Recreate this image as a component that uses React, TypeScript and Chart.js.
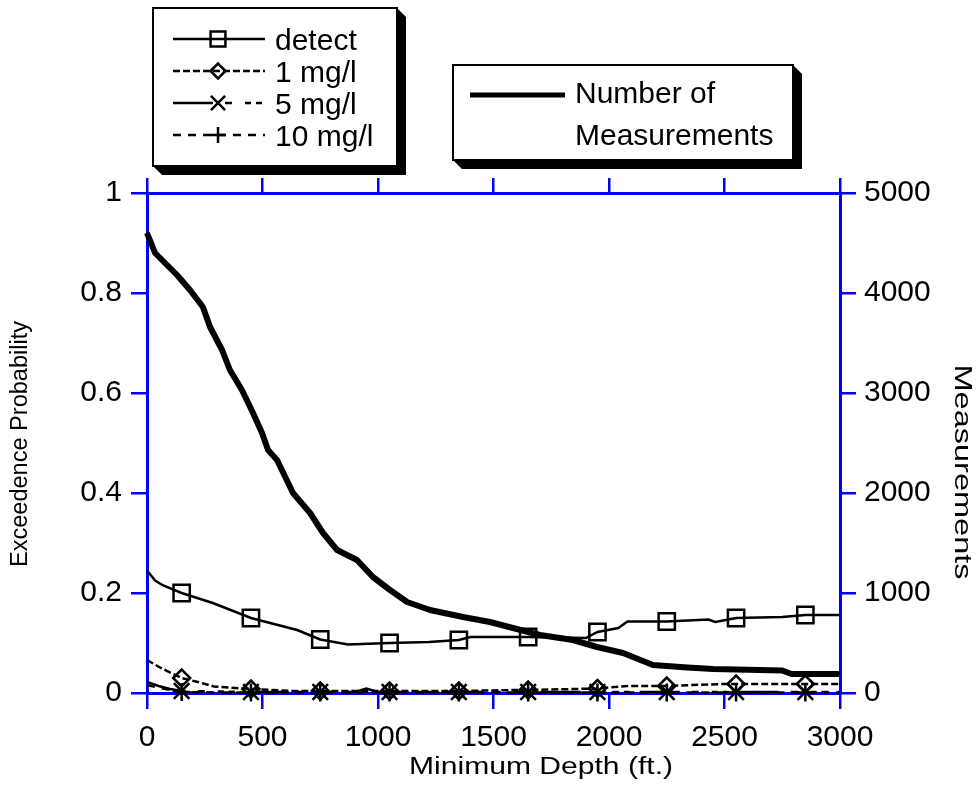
import React, { useEffect, useRef } from 'react';
import { Chart, registerables } from 'chart.js';

Chart.register(...registerables);

// ---------- data ----------
const markerDepths = [150, 450, 750, 1050, 1350, 1650, 1950, 2250, 2550, 2850];
const leftTickLabels = ['0', '0.2', '0.4', '0.6', '0.8', '1'];
const rightTickLabels = ['0', '1000', '2000', '3000', '4000', '5000'];
const seriesNames = ['detect', '1 mg/l', '5 mg/l', '10 mg/l'];
const measLegend = ['Number of', 'Measurements'];
const xTitle = 'Minimum Depth (ft.)';
const yTitle = 'Exceedence Probability';
const y2Title = 'Measurements';

const measDepth = [0, 35, 78, 130, 186, 242, 273, 325, 359, 411, 459, 498, 524, 563, 632, 706, 762, 823, 909, 978, 1052, 1126, 1225, 1368, 1485, 1584, 1701, 1844, 1948, 2061, 2190, 2340, 2450, 2750, 2790, 3000];
const measCount = [4600, 4400, 4300, 4180, 4030, 3860, 3660, 3430, 3230, 3030, 2800, 2600, 2430, 2330, 2000, 1800, 1600, 1430, 1330, 1160, 1030, 910, 830, 760, 710, 650, 580, 530, 460, 400, 280, 255, 240, 225, 190, 190];

const detectDepth = [0, 35, 70, 150, 285, 450, 650, 750, 870, 1050, 1220, 1350, 1400, 1650, 1900, 1950, 2040, 2080, 2250, 2430, 2460, 2550, 2750, 2850, 3000];
const detectProb = [0.245, 0.225, 0.215, 0.2, 0.18, 0.15, 0.126, 0.107, 0.097, 0.1, 0.102, 0.106, 0.112, 0.112, 0.11, 0.122, 0.13, 0.143, 0.143, 0.147, 0.142, 0.15, 0.152, 0.156, 0.156];

const mg1Depth = [0, 60, 150, 220, 290, 450, 630, 750, 1050, 1350, 1600, 1650, 1950, 2080, 2250, 2490, 2550, 2850, 3000];
const mg1Prob = [0.066, 0.05, 0.03, 0.022, 0.013, 0.008, 0.004, 0.004, 0.004, 0.004, 0.006, 0.006, 0.009, 0.014, 0.014, 0.018, 0.018, 0.018, 0.018];

const mg5Depth = [0, 50, 100, 150, 300, 450, 750, 900, 950, 1000, 1050, 1350, 1650, 1950, 2250, 2550, 2850, 3000];
const mg5Prob = [0.022, 0.014, 0.008, 0.004, 0.003, 0.002, 0.002, 0.002, 0.009, 0.002, 0.002, 0.002, 0.002, 0.002, 0.002, 0.002, 0.002, 0.002];

const mg10Depth = [0, 40, 100, 150, 300, 450, 750, 1050, 1350, 1650, 1950, 2250, 2550, 2850, 3000];
const mg10Prob = [0.016, 0.012, 0.006, 0.002, 0.001, 0.001, 0.001, 0.001, 0.001, 0.001, 0.001, 0.001, 0.001, 0.001, 0.001];

// ---------- styles ----------
const BLUE = '#0000ff';
const FONT = '"Liberation Sans", Arial, Helvetica, sans-serif';
const dashes = [[], [7, 3], [40, 12, 7, 13, 6, 5, 6, 10], [8, 7]];
const pStyles = ['rect', 'rectRot', 'crossRot', 'cross'];
const pRadii = [11.5, 8.5, 11, 9];

const pts = (xs: number[], ys: number[]) => xs.map((x, i) => ({ x, y: ys[i] }));
const markerRadius = (r: number) => (ctx: any) => {
  const raw = ctx.raw;
  return raw && markerDepths.includes(raw.x) ? r : 0;
};

function drawMarker(ctx: CanvasRenderingContext2D, style: string, x: number, y: number, r: number) {
  ctx.beginPath();
  if (style === 'rect') {
    const s = Math.SQRT1_2 * r;
    ctx.rect(x - s, y - s, 2 * s, 2 * s);
  } else if (style === 'rectRot') {
    ctx.moveTo(x - r, y);
    ctx.lineTo(x, y - r);
    ctx.lineTo(x + r, y);
    ctx.lineTo(x, y + r);
    ctx.closePath();
  } else if (style === 'crossRot') {
    const o = Math.SQRT1_2 * r;
    ctx.moveTo(x - o, y - o);
    ctx.lineTo(x + o, y + o);
    ctx.moveTo(x + o, y - o);
    ctx.lineTo(x - o, y + o);
  } else {
    ctx.moveTo(x - r, y);
    ctx.lineTo(x + r, y);
    ctx.moveTo(x, y - r);
    ctx.lineTo(x, y + r);
  }
  ctx.stroke();
}

function drawBox(ctx: CanvasRenderingContext2D, l: number, t: number, r: number, b: number, sh: number) {
  ctx.save();
  ctx.fillStyle = '#000';
  ctx.beginPath();
  ctx.moveTo(r, t);
  ctx.lineTo(r + sh, t + sh);
  ctx.lineTo(r + sh, b + sh);
  ctx.lineTo(l + sh, b + sh);
  ctx.lineTo(l, b);
  ctx.closePath();
  ctx.fill();
  ctx.fillStyle = '#fff';
  ctx.fillRect(l, t, r - l, b - t);
  ctx.strokeStyle = '#000';
  ctx.lineWidth = 2;
  ctx.strokeRect(l, t, r - l, b - t);
  ctx.restore();
}

function drawScaledText(ctx: CanvasRenderingContext2D, text: string, cx: number, cy: number, rot: number, size: number, targetW: number) {
  ctx.save();
  ctx.translate(cx, cy);
  ctx.rotate(rot);
  ctx.font = `${size}px ${FONT}`;
  const w = ctx.measureText(text).width;
  ctx.scale(targetW / w, 1);
  ctx.textAlign = 'center';
  ctx.textBaseline = 'middle';
  ctx.fillStyle = '#000';
  ctx.fillText(text, 0, 0);
  ctx.restore();
}

const decorPlugin = {
  id: 'decor',
  afterDraw(chart: any) {
    const ctx: CanvasRenderingContext2D = chart.ctx;
    // axis titles
    drawScaledText(ctx, yTitle, 21, 444, -Math.PI / 2, 23, 246);
    drawScaledText(ctx, y2Title, 961, 472, Math.PI / 2, 23, 215);
    drawScaledText(ctx, xTitle, 541, 768, 0, 23, 264);

    // legend 1
    drawBox(ctx, 153, 8, 397, 166, 9);
    const rows = [39, 71, 103, 135];
    seriesNames.forEach((name, i) => {
      const y = rows[i];
      ctx.save();
      ctx.strokeStyle = '#000';
      ctx.lineWidth = 2.5;
      ctx.setLineDash(dashes[i]);
      ctx.beginPath();
      ctx.moveTo(173, y);
      ctx.lineTo(265, y);
      ctx.stroke();
      ctx.setLineDash([]);
      ctx.lineWidth = 2.5;
      drawMarker(ctx, pStyles[i], 218, y, pRadii[i] - 1);
      ctx.fillStyle = '#000';
      ctx.font = `30px ${FONT}`;
      ctx.textAlign = 'left';
      ctx.textBaseline = 'alphabetic';
      ctx.fillText(name, 275, y + 10.5);
      ctx.restore();
    });

    // legend 2
    drawBox(ctx, 453, 65, 793, 160, 9);
    ctx.save();
    ctx.strokeStyle = '#000';
    ctx.lineWidth = 5;
    ctx.beginPath();
    ctx.moveTo(470, 95);
    ctx.lineTo(565, 95);
    ctx.stroke();
    ctx.fillStyle = '#000';
    ctx.font = `30px ${FONT}`;
    ctx.textAlign = 'left';
    ctx.textBaseline = 'alphabetic';
    ctx.fillText(measLegend[0], 575, 103);
    ctx.fillText(measLegend[1], 575, 145);
    ctx.restore();
  },
};

export default function App() {
  const ref = useRef<HTMLCanvasElement>(null);
  useEffect(() => {
    if (!ref.current) return;
    const grid = { drawOnChartArea: false, color: BLUE, lineWidth: 2.5, tickLength: 16 };
    const border = { color: BLUE, width: 3 };
    const tickFont = { family: FONT, size: 30 };
    const probSeries = [
      pts(detectDepth, detectProb),
      pts(mg1Depth, mg1Prob),
      pts(mg5Depth, mg5Prob),
      pts(mg10Depth, mg10Prob),
    ];
    const datasets: any[] = probSeries.map((data, i) => ({
      label: seriesNames[i],
      data,
      yAxisID: 'y',
      xAxisID: 'x',
      borderColor: '#000',
      borderWidth: 2.5,
      borderDash: dashes[i],
      pointStyle: pStyles[i],
      pointRadius: markerRadius(pRadii[i]),
      pointBorderWidth: 2.5,
      pointBorderColor: '#000',
      pointBackgroundColor: 'rgba(0,0,0,0)',
      fill: false,
      tension: 0,
      clip: false,
    }));
    datasets.push({
      label: measLegend.join(' '),
      data: pts(measDepth, measCount),
      yAxisID: 'y1',
      xAxisID: 'x',
      borderColor: '#000',
      borderWidth: 6,
      pointRadius: 0,
      fill: false,
      tension: 0,
      clip: false,
      borderJoinStyle: 'round',
    });

    const chart = new Chart(ref.current, {
      type: 'line',
      data: { datasets },
      options: {
        responsive: false,
        animation: false,
        events: [],
        layout: { padding: 0 },
        plugins: { legend: { display: false }, tooltip: { enabled: false }, title: { display: false } },
        scales: {
          x: {
            type: 'linear', position: 'bottom', min: 0, max: 3000,
            ticks: { stepSize: 500, color: '#000', font: tickFont, padding: 11, maxRotation: 0, autoSkip: false, callback: (v: any) => String(v) },
            grid, border,
            afterFit: (s: any) => { s.height = 93; },
          },
          x2: {
            type: 'linear', position: 'top', min: 0, max: 3000,
            ticks: { stepSize: 500, display: false },
            grid: { ...grid, tickLength: 15 }, border,
            afterFit: (s: any) => { s.height = 193; },
          },
          y: {
            type: 'linear', position: 'left', min: 0, max: 1,
            ticks: { stepSize: 0.2, color: '#000', font: tickFont, padding: 9, callback: (v: any) => leftTickLabels[Math.round(v * 5)] },
            grid, border,
            afterFit: (s: any) => { s.width = 147; },
          },
          y1: {
            type: 'linear', position: 'right', min: 0, max: 5000,
            ticks: { stepSize: 1000, color: '#000', font: tickFont, padding: 8, callback: (v: any) => rightTickLabels[Math.round(v / 1000)] },
            grid, border,
            afterFit: (s: any) => { s.width = 136; },
          },
        },
      } as any,
      plugins: [decorPlugin],
    });
    return () => chart.destroy();
  }, []);
  return (
    <div style={{ position: 'fixed', left: 0, top: 0, width: 976, height: 786, background: '#fff' }}>
      <canvas ref={ref} width={976} height={786} style={{ display: 'block' }} />
    </div>
  );
}
